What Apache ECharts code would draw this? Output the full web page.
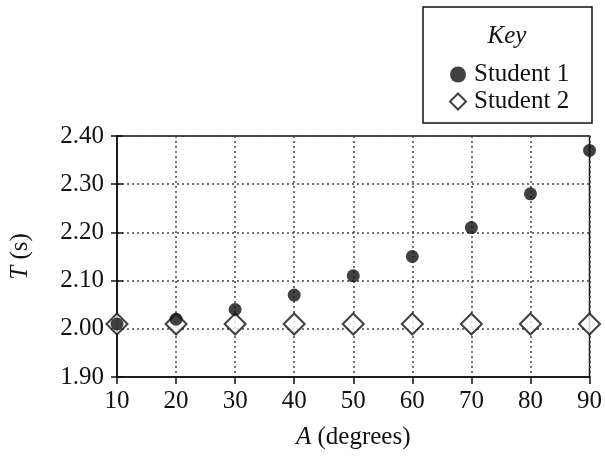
<!DOCTYPE html>
<html>
<head>
<meta charset="utf-8">
<script src="https://cdn.jsdelivr.net/npm/echarts@6/dist/echarts.min.js"></script>
<style>
  html, body { margin: 0; padding: 0; background: #fff; }
  #chart { width: 605px; height: 456px; }
</style>
</head>
<body>
<div id="chart"></div>
<script>
  // 数据
  var angles = [10, 20, 30, 40, 50, 60, 70, 80, 90]
  var student1 = [2.01, 2.02, 2.04, 2.07, 2.11, 2.15, 2.21, 2.28, 2.37]
  var student2 = [2.01, 2.01, 2.01, 2.01, 2.01, 2.01, 2.01, 2.01, 2.01]
  var seriesNames = ['Student 1', 'Student 2']

  var ink = '#111'
  var font = 'Liberation Serif'
  var fs = 25

  let toPairs = function (xs, ys) {
    return xs.map(function (x, i) { return [x, ys[i]] })
  }

  let myChart = echarts.init(document.getElementById('chart'))
  var option = {
    animation: false,
    textStyle: { fontFamily: font, color: ink },
    grid: {
      left: 114,
      right: 12,
      top: 136,
      bottom: 79,
      show: true,
      borderColor: ink,
      borderWidth: 1.5
    },
    graphic: [
      {
        type: 'rect',
        shape: { x: 423, y: 7, width: 169, height: 116 },
        style: { fill: '#fff', stroke: ink, lineWidth: 1.5 },
        z: 0
      },
      {
        type: 'text',
        x: 507,
        y: 36,
        style: {
          text: 'Key', font: 'italic 25px "Liberation Serif"', fill: ink,
          textAlign: 'center', textVerticalAlign: 'middle'
        },
        z: 5
      }
    ],
    legend: {
      orient: 'vertical',
      left: 444,
      top: 57,
      itemWidth: 16,
      itemHeight: 16,
      itemGap: 2,
      textStyle: { fontFamily: font, fontSize: fs, lineHeight: 24, color: ink, padding: [0, 0, 0, 3] },
      data: seriesNames,
      z: 5
    },
    xAxis: {
      type: 'value',
      min: 10,
      max: 90,
      interval: 10,
      name: '{i|A} (degrees)',
      nameLocation: 'middle',
      nameGap: 48,
      nameTextStyle: {
        fontFamily: font, fontSize: fs, color: ink,
        rich: { i: { fontFamily: font, fontSize: fs, fontStyle: 'italic', color: ink } }
      },
      axisLine: { lineStyle: { color: ink, width: 1.5 } },
      axisTick: { show: true, inside: false, length: 7, lineStyle: { color: ink, width: 1.5 } },
      axisLabel: { fontFamily: font, fontSize: fs, color: ink, margin: 12 },
      splitLine: { show: true, lineStyle: { color: '#444', width: 1.5, type: [2, 3] } }
    },
    yAxis: [
      {
        type: 'value',
        min: 1.9,
        max: 2.4,
        interval: 0.1,
        name: '{i|T} (s)',
        nameLocation: 'middle',
        nameGap: 84,
        nameTextStyle: {
          fontFamily: font, fontSize: fs, color: ink,
          rich: { i: { fontFamily: font, fontSize: fs, fontStyle: 'italic', color: ink } }
        },
        axisLine: { show: true, lineStyle: { color: ink, width: 1.5 } },
        axisTick: { show: true, inside: false, length: 6, lineStyle: { color: ink, width: 1.5 } },
        axisLabel: {
          fontFamily: font, fontSize: fs, color: ink, margin: 13,
          formatter: function (v) { return v.toFixed(2) }
        },
        splitLine: { show: true, lineStyle: { color: '#444', width: 1.5, type: [2, 3] } }
      },
      {
        // 内侧刻度
        type: 'value',
        position: 'left',
        min: 1.9,
        max: 2.4,
        interval: 0.1,
        axisLine: { show: false },
        axisTick: { show: true, inside: true, length: 6, lineStyle: { color: ink, width: 1.5 } },
        axisLabel: { show: false },
        splitLine: { show: false }
      }
    ],
    series: [
      {
        name: seriesNames[1],
        type: 'scatter',
        symbol: 'diamond',
        symbolSize: 21,
        itemStyle: { color: '#fff', borderColor: ink, borderWidth: 2 },
        data: toPairs(angles, student2),
        z: 3
      },
      {
        name: seriesNames[0],
        type: 'scatter',
        symbol: 'circle',
        symbolSize: 13,
        itemStyle: { color: ink },
        data: toPairs(angles, student1),
        z: 4
      }
    ]
  }
  myChart.setOption(option)
</script>
</body>
</html>
